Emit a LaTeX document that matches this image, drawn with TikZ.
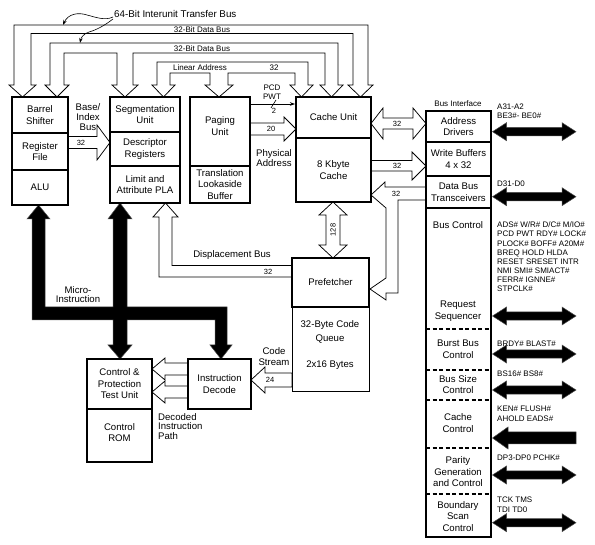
\documentclass[tikz,border=0pt]{standalone}
\usepackage{fontspec}
\setmainfont{Liberation Sans}
\usetikzlibrary{arrows.meta}
\begin{document}
\begin{tikzpicture}[x=1pt,y=-1pt,
 cell/.style={draw, line width=1.5pt, inner sep=0pt, outer sep=0pt, align=center, font=\fontsize{9.6}{11.5}\selectfont, anchor=north west},
 lab/.style={inner sep=0pt, align=center, font=\fontsize{9.6}{11.5}\selectfont},
 sml/.style={inner sep=0pt, font=\fontsize{8}{9}\selectfont},
 sig/.style={inner sep=0pt, anchor=west, align=left, font=\fontsize{8}{9.15}\selectfont},
 tiny/.style={inner sep=0pt, font=\fontsize{7.5}{8}\selectfont},
 bus/.style={draw, fill=white, line width=0.75pt, line join=miter},
 blk/.style={fill=black, draw=black!70, line width=0.5pt, line join=miter},
 sq/.style={line width=0.6pt, -{Stealth[length=5pt,width=3.5pt]}}]
\useasboundingbox (0,0) rectangle (595,545);

% ---------- top buses ----------
\draw[bus] (14,85) -- (14,25) -- (368,25) -- (368,85) -- (373,85) -- (360.5,97) -- (348,85) -- (353,85) -- (353,33.5) -- (31,33.5) -- (31,85) -- (36,85) -- (22.5,97) -- (9,85) -- cycle;
\draw[bus] (50,85) -- (50,43) -- (338,43) -- (338,85) -- (343,85) -- (331.5,97) -- (320,85) -- (325,85) -- (325,53) -- (133,53) -- (133,85) -- (138,85) -- (125,97) -- (112,85) -- (117,85) -- (117,53) -- (64,53) -- (64,85) -- (69,85) -- (57,97) -- (45,85) -- cycle;
\draw[bus] (157,85) -- (157,62) -- (308,62) -- (308,85) -- (313,85) -- (301.5,97) -- (290,85) -- (295,85) -- (295,73) -- (228,73) -- (228,85) -- (233,85) -- (219,97) -- (205,85) -- (210,85) -- (210,73) -- (170,73) -- (170,85) -- (175,85) -- (163.5,97) -- (152,85) -- cycle;

\node[sml, anchor=west, font=\fontsize{9.8}{10}\selectfont] (t64) at (114,14) {64-Bit Interunit Transfer Bus};
\draw[sq] (113,17) .. controls (105,21) and (95,17) .. (87,15) .. controls (78,12) and (68,14) .. (63,25);
\draw[sq] (113,19) .. controls (104,26) and (96,30) .. (89,32) .. controls (83,34) and (81,38) .. (80,43);
\node[sml] (d1) at (202,29.3) {32-Bit Data Bus};
\node[sml] (d2) at (202,48.3) {32-Bit Data Bus};
\node[sml] (la) at (200,67.5) {Linear Address};
\node[sml] (n32b) at (274,67.5) {32};

% ---------- hollow arrows ----------
\draw[bus] (68,136.5) -- (97,136.5) -- (97,125) -- (110,142.5) -- (97,160) -- (97,148.5) -- (68,148.5) -- cycle;
\draw[bus] (250,123) -- (284,123) -- (284,117) -- (296,129) -- (284,141) -- (284,135) -- (250,135) -- cycle;
\draw[bus] (371,123.5) -- (383,108) -- (383,118) -- (413,118) -- (413,108) -- (426,123.5) -- (413,139) -- (413,129) -- (383,129) -- (383,139) -- cycle;
\draw[bus] (371,160.5) -- (412,160.5) -- (412,152) -- (426,166) -- (412,180) -- (412,171) -- (371,171) -- cycle;
\draw[bus] (426,187) -- (385,187) -- (385,182) -- (371,195) -- (386,208) -- (386,278) -- (370,289) -- (386,300) -- (386,293) -- (398,293) -- (398,200) -- (426,200) -- cycle;
\draw[bus] (333,202) -- (347,215) -- (340,215) -- (340,245) -- (347,245) -- (333,258) -- (319,245) -- (326,245) -- (326,215) -- (319,215) -- cycle;
\draw[bus] (292,265.5) -- (172,265.5) -- (172,217) -- (178,217) -- (165.5,203) -- (153,217) -- (159,217) -- (159,277) -- (292,277) -- cycle;
\draw[bus] (292,373) -- (265,373) -- (265,367) -- (251,380) -- (265,393) -- (265,387) -- (292,387) -- cycle;
\draw[bus] (188,363) -- (165,363) -- (165,358) -- (152,369) -- (165,380) -- (165,375) -- (188,375) -- cycle;
\draw[bus] (188,386) -- (165,386) -- (165,381) -- (152,392) -- (165,403) -- (165,398) -- (188,398) -- cycle;

\draw[line width=0.6pt, -{Stealth[length=5pt,width=3.5pt]}] (250,104) -- (295,104);
\draw[line width=0.6pt] (271,108) -- (276,100);

% ---------- micro-instruction bus ----------
\draw[blk] (38.5,205) -- (50,219) -- (45,219) -- (45,307) -- (113,307) -- (113,219) -- (108,219) -- (120,203) -- (132,219) -- (127,219) -- (127,307) -- (227,307) -- (227,345) -- (232,345) -- (221,359) -- (210,345) -- (215,345) -- (215,320) -- (127,320) -- (127,345) -- (132,345) -- (120,359) -- (108,345) -- (113,345) -- (113,320) -- (32,320) -- (32,219) -- (27,219) -- cycle;

% ---------- boxes ----------
\node[cell, minimum width=56pt, minimum height=36pt] (bs) at (12,97) {Barrel\\Shifter};
\node[cell, minimum width=56pt, minimum height=37pt] (rf) at (12,133) {Register\\File};
\node[cell, minimum width=56pt, minimum height=35pt] (alu) at (12,170) {ALU};
\node[cell, minimum width=70pt, minimum height=35pt] (seg) at (110,97) {Segmentation\\Unit};
\node[cell, minimum width=70pt, minimum height=34pt] (desc) at (110,132) {Descriptor\\Registers};
\node[cell, minimum width=70pt, minimum height=37pt] (pla) at (110,166) {Limit and\\Attribute PLA};
\node[cell, minimum width=60pt, minimum height=69pt] (pag) at (190,97) {};
\node[lab] (pagt) at (220,126.2) {Paging\\Unit};
\node[cell, minimum width=60pt, minimum height=37pt] (tlb) at (190,166) {Translation\\Lookaside\\Buffer};
\node[cell, minimum width=75pt, minimum height=41pt] (cu) at (296,97) {Cache Unit};
\node[cell, minimum width=75pt, minimum height=64pt] (kc) at (296,138) {8 Kbyte\\Cache};

\node[sml] (bit) at (458,104) {Bus Interface};
\node[cell, minimum width=65pt, minimum height=31pt] (ad) at (426,111) {Address\\Drivers};
\node[cell, minimum width=65pt, minimum height=34pt] (wb) at (426,142) {Write Buffers\\4 x 32};
\node[cell, minimum width=65pt, minimum height=32pt] (dbt) at (426,176) {Data Bus\\Transceivers};
\node[cell, minimum width=65pt, minimum height=329pt] (bcx) at (426,208) {};
\foreach \yy in {329,370,400,448,494} {\draw[line width=1.5pt, dash pattern=on 4pt off 2.5pt] (426,\yy) -- (491,\yy);}
\node[lab] (bct) at (458,225) {Bus Control};
\node[lab] (rst) at (458,311) {Request\\Sequencer};
\node[lab] (bbt) at (458,349) {Burst Bus\\Control};
\node[lab] (bst) at (458,384.5) {Bus Size\\Control};
\node[lab] (cct) at (458,423) {Cache\\Control};
\node[lab] (pgt) at (458,472) {Parity\\Generation\\and Control};
\node[lab] (bsc) at (458,516.5) {Boundary\\Scan\\Control};

\node[cell, line width=0.8pt, minimum width=77pt, minimum height=84pt] (cq) at (292,307) {};
\node[cell, minimum width=77pt, minimum height=49pt] (pf) at (292,258) {Prefetcher};
\node[lab] (cq1) at (330,325) {32-Byte Code};
\node[lab] (cq2) at (330,339) {Queue};
\node[lab] (cq3) at (330,365) {2x16 Bytes};

\node[cell, minimum width=63pt, minimum height=50pt] (id) at (188,359) {Instruction\\Decode};
\node[cell, minimum width=65pt, minimum height=50pt] (cp) at (87,359) {Control \&\\Protection\\Test Unit};
\node[cell, minimum width=65pt, minimum height=53pt] (rom) at (87,409) {};
\node[lab] (romt) at (119.5,432.5) {Control\\ROM};

% ---------- labels ----------
\node[lab, font=\fontsize{9.6}{10}\selectfont] (bib) at (88,117) {Base/\\Index\\Bus};
\node[tiny] (n32a) at (81,142.5) {32};
\node[sml, align=center, font=\fontsize{8}{8.5}\selectfont] (pcd) at (272,92.3) {PCD\\PWT};
\node[tiny] (n2) at (274,111) {2};
\node[tiny] (n20) at (271,129) {20};
\node[lab, font=\fontsize{9.6}{10}\selectfont] (phys) at (274,158) {Physical\\Address};
\node[tiny] (n32c) at (397,123.5) {32};
\node[tiny] (n32d) at (397,165.5) {32};
\node[tiny] (n32e) at (396,193.5) {32};
\node[tiny, rotate=90] (n128) at (333,230) {128};
\node[lab] (disp) at (232,255) {Displacement Bus};
\node[tiny] (n32f) at (268,271.5) {32};
\node[lab, font=\fontsize{9.6}{9.5}\selectfont] (mi) at (78,294.5) {Micro-\\Instruction};
\node[lab, font=\fontsize{9.6}{11}\selectfont] (cs) at (274,356.5) {Code\\Stream};
\node[tiny] (n24) at (270,380) {24};
\node[lab, align=left, anchor=west, font=\fontsize{9.6}{9.5}\selectfont] (dip) at (158,426.5) {Decoded\\Instruction\\Path};

% ---------- pins ----------
\foreach \yy in {131.7,196.7,316,354,390,475,522.7} {
 \draw[blk] (492.5,\yy) -- (506.5,\yy-9) -- (506.5,\yy-4.2) -- (562,\yy-4.2) -- (562,\yy-9) -- (576,\yy) -- (562,\yy+9) -- (562,\yy+4.2) -- (506.5,\yy+4.2) -- (506.5,\yy+9) -- cycle;}
\draw[blk] (492.5,438) -- (508,427) -- (508,432) -- (576,432) -- (576,444) -- (508,444) -- (508,449) -- cycle;

\node[sig, font=\fontsize{8}{9}\selectfont] (sa) at (497,111.5) {A31-A2\\BE3\#- BE0\#};
\node[sig] (sd) at (497,184) {D31-D0};
\node[sig] (sbc) at (497,257) {ADS\# W/R\# D/C\# M/IO\#\\PCD PWT RDY\# LOCK\#\\PLOCK\# BOFF\# A20M\#\\BREQ HOLD HLDA\\RESET SRESET INTR\\NMI SMI\# SMIACT\#\\FERR\# IGNNE\#\\STPCLK\#};
\node[sig] (sbb) at (497,343.3) {BRDY\# BLAST\#};
\node[sig] (sbs) at (497,373.3) {BS16\# BS8\#};
\node[sig, font=\fontsize{8}{10}\selectfont] (sk) at (497,414) {KEN\# FLUSH\#\\AHOLD EADS\#};
\node[sig] (sp) at (497,457.3) {DP3-DP0 PCHK\#};
\node[sig, font=\fontsize{8}{10}\selectfont] (st) at (497,505) {TCK TMS\\TDI TD0};
\end{tikzpicture}
\end{document}
